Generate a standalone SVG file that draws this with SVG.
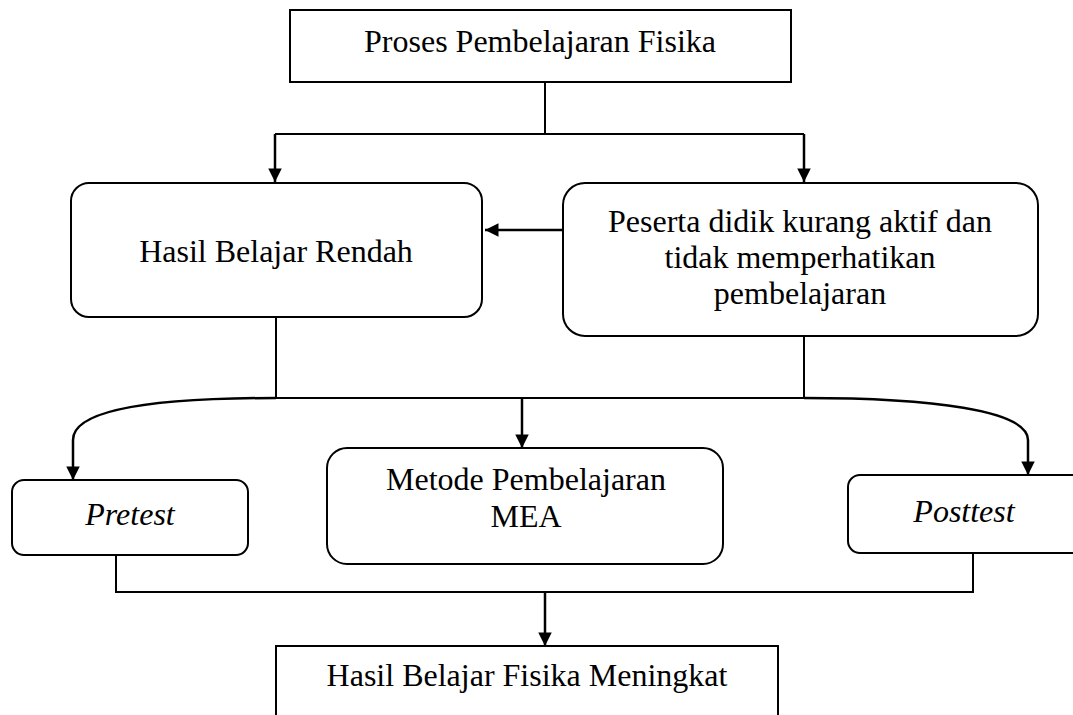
<svg xmlns="http://www.w3.org/2000/svg" width="1073" height="715" viewBox="0 0 1073 715">
<style>
.box{fill:#fff;stroke:#000;stroke-width:2}
.t{font-family:"Liberation Serif","Times New Roman",serif;font-size:32px;fill:#000;text-anchor:middle}
.i{font-style:italic}
.ln{fill:none;stroke:#000;stroke-width:2}
.ar{fill:none;stroke:#000;stroke-width:2.5;marker-end:url(#ah)}
</style>
<defs>
<marker id="ah" viewBox="0 0 10 10" refX="10" refY="5" markerWidth="6" markerHeight="5.4" markerUnits="strokeWidth" orient="auto">
<path d="M0,0 L10,5 L0,10 z" fill="#000"/>
</marker>
</defs>
<rect width="1073" height="715" fill="#fff"/>
<g id="connectors">
<path class="ln" d="M545,82 V134 M275,134 H804"/>
<path class="ar" d="M275,134 V182"/>
<path class="ar" d="M804,134 V182"/>
<path class="ar" d="M563,230 H485"/>
<path class="ln" d="M276,317 V398 M804,336 V398 M276,398 H804"/>
<path class="ar" d="M276,398 C150,398 73,410 73,440 V480"/>
<path class="ar" d="M804,398 C930,398 1028,410 1028,440 V475"/>
<path class="ar" d="M522,398 V448"/>
<path class="ln" d="M116,555 V592 H973 V553"/>
<path class="ar" d="M545,592 V646"/>
</g>
<g id="n1">
<rect class="box" x="290" y="10" width="501" height="72"/>
<text class="t" x="540" y="52">Proses Pembelajaran Fisika</text>
</g>
<g id="n2">
<rect class="box" x="71" y="183" width="411" height="134" rx="18"/>
<text class="t" x="276" y="262">Hasil Belajar Rendah</text>
</g>
<g id="n3">
<rect class="box" x="563" y="183" width="475" height="153" rx="22"/>
<text class="t" x="800" y="232">Peserta didik kurang aktif dan</text>
<text class="t" x="800" y="268">tidak memperhatikan</text>
<text class="t" x="800" y="304">pembelajaran</text>
</g>
<g id="n4">
<rect class="box" x="12" y="480" width="236" height="75" rx="12"/>
<text class="t i" x="130" y="525">Pretest</text>
</g>
<g id="n5">
<rect class="box" x="327" y="448" width="396" height="116" rx="20"/>
<text class="t" x="526" y="490">Metode Pembelajaran</text>
<text class="t" x="526" y="527">MEA</text>
</g>
<g id="n6">
<rect class="box" x="848" y="475" width="240" height="78" rx="12"/>
<text class="t i" x="964" y="522">Posttest</text>
</g>
<g id="n7">
<rect class="box" x="276" y="646" width="502" height="90"/>
<text class="t" x="527" y="686">Hasil Belajar Fisika Meningkat</text>
</g>
</svg>
